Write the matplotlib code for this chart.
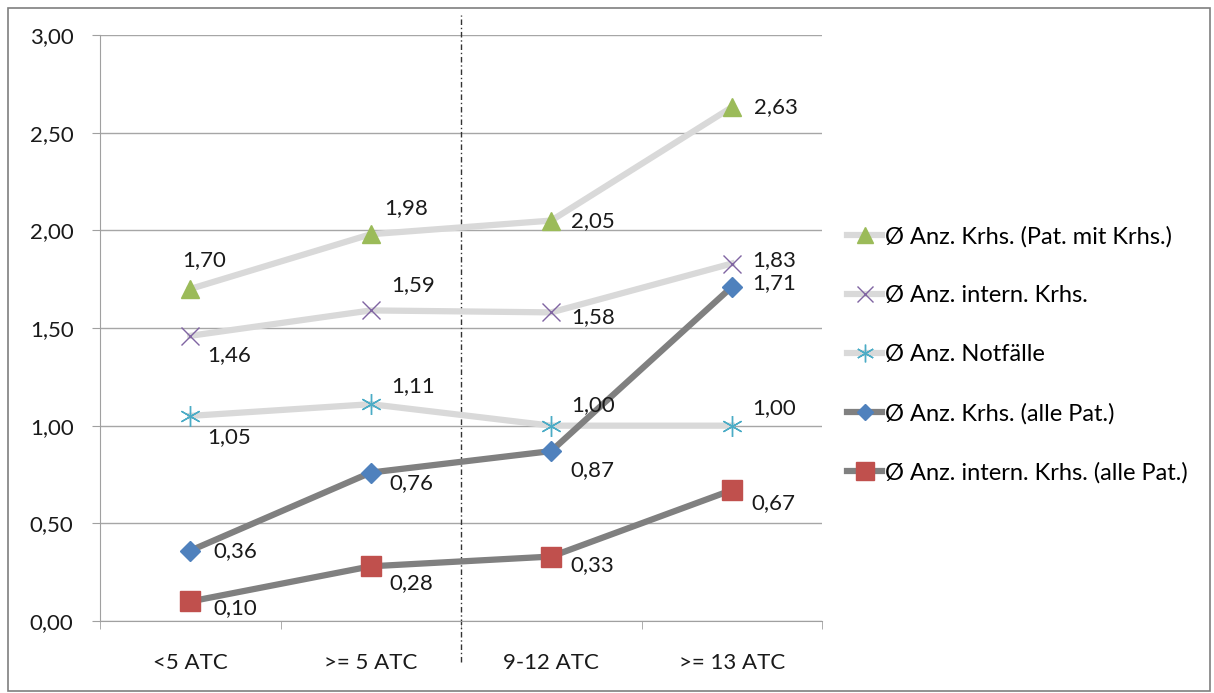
import numpy as np
import matplotlib
matplotlib.use('Agg')
import matplotlib.pyplot as plt
from matplotlib.patches import Rectangle

plt.rcParams['font.family'] = ['Lato', 'DejaVu Sans']

# Kategorien (Anzahl ATC) und Mittelwerte je Reihe
categories = ['<5 ATC', '>= 5 ATC', '9-12 ATC', '>= 13 ATC']
krhs_mit_krhs = [1.70, 1.98, 2.05, 2.63]
intern_krhs = [1.46, 1.59, 1.58, 1.83]
notfaelle = [1.05, 1.11, 1.00, 1.00]
krhs_alle = [0.36, 0.76, 0.87, 1.71]
intern_krhs_alle = [0.10, 0.28, 0.33, 0.67]

labels = ['Ø Anz. Krhs. (Pat. mit Krhs.)', 'Ø Anz. intern. Krhs.',
          'Ø Anz. Notfälle', 'Ø Anz. Krhs. (alle Pat.)',
          'Ø Anz. intern. Krhs. (alle Pat.)']

# Versatz der Datenbeschriftungen in Pixeln (linke Kante dx, Mitte dy)
offsets = [
    [(-8, 29), (13, 26), (20, -1), (22, 0)],
    [(17, -19), (20, 25), (20, -5), (20, 3)],
    [(17, -21), (20, 18), (20, 21), (20, 18)],
    [(23, 0), (19, -11), (19, -19), (20, 4)],
    [(23, -7), (19, -17), (19, -9), (20, -13)],
]

series = [krhs_mit_krhs, intern_krhs, notfaelle, krhs_alle, intern_krhs_alle]
styles = [
    dict(color='#d9d9d9', lw=4.5, marker='^', ms=13, mfc='#9bbb59', mec='#9bbb59'),
    dict(color='#d9d9d9', lw=4.5, marker='x', ms=13, mfc='#8064a2', mec='#8064a2', mew=1.0),
    dict(color='#d9d9d9', lw=4.5, marker=(6, 2, 0), ms=15, mfc='#4bacc6', mec='#4bacc6', mew=1.0),
    dict(color='#808080', lw=4.5, marker='D', ms=10, mfc='#4f81bd', mec='#4f81bd'),
    dict(color='#808080', lw=4.5, marker='s', ms=14.5, mfc='#c0504d', mec='#c0504d'),
]

fig = plt.figure(figsize=(12.14, 6.93), dpi=100)
ax = fig.add_axes([100 / 1214, 1 - 621 / 693, 722 / 1214, 586 / 693])

x = np.arange(len(categories))
for vals, lab, st, offs in zip(series, labels, styles, offsets):
    ax.plot(x, vals, label=lab, zorder=3, **st)
    for xi, v, (dx, dy) in zip(x, vals, offs):
        ax.annotate(f'{v:.2f}'.replace('.', ','), (xi, v), xytext=(dx, dy),
                    textcoords='offset pixels', fontsize=16, color='#1a1a1a',
                    ha='left', va='center', zorder=4)

ax.set_xlim(-0.5, 3.5)
ax.set_ylim(0, 3.0)
yt = np.arange(0, 3.01, 0.5)
ax.set_yticks(yt)
ax.set_yticklabels([f'{t:.2f}'.replace('.', ',') for t in yt])
ax.set_xticks(x)
ax.set_xticklabels(categories)
ax.set_xticks(np.arange(-0.5, 3.6, 1), minor=True)
ax.tick_params(axis='x', which='major', length=0, pad=23, labelsize=16, colors='#1a1a1a')
ax.tick_params(axis='x', which='minor', length=6, color='#a0a0a0')
ax.tick_params(axis='y', length=6, color='#a0a0a0', labelsize=16, pad=13, labelcolor='#1a1a1a')
ax.grid(axis='y', color='#a6a6a6', lw=1)
ax.set_axisbelow(True)
for s in ['top', 'right']:
    ax.spines[s].set_visible(False)
for s in ['left', 'bottom']:
    ax.spines[s].set_color('#a0a0a0')

# gestrichelte Trennlinie zwischen >=5 ATC und 9-12 ATC
ax.plot([1.5, 1.5], [-0.21, 3.1], color='#333333', lw=1, dashes=(4, 2, 1, 2),
        clip_on=False, zorder=2)

ax.legend(loc='upper left', bbox_to_anchor=(847 / 1214, 1 - 226 / 693),
          bbox_transform=fig.transFigure, frameon=False, fontsize=17,
          handlelength=1.5, handletextpad=0.1, labelspacing=1.6,
          borderaxespad=0, borderpad=0, markerscale=0.85)

fig.patches.append(Rectangle((8 / 1214, 2 / 693), 1202 / 1214, 683 / 693,
                             transform=fig.transFigure, fill=False,
                             edgecolor='#7f7f7f', lw=1.2))

fig.savefig('out.png', dpi=100)
